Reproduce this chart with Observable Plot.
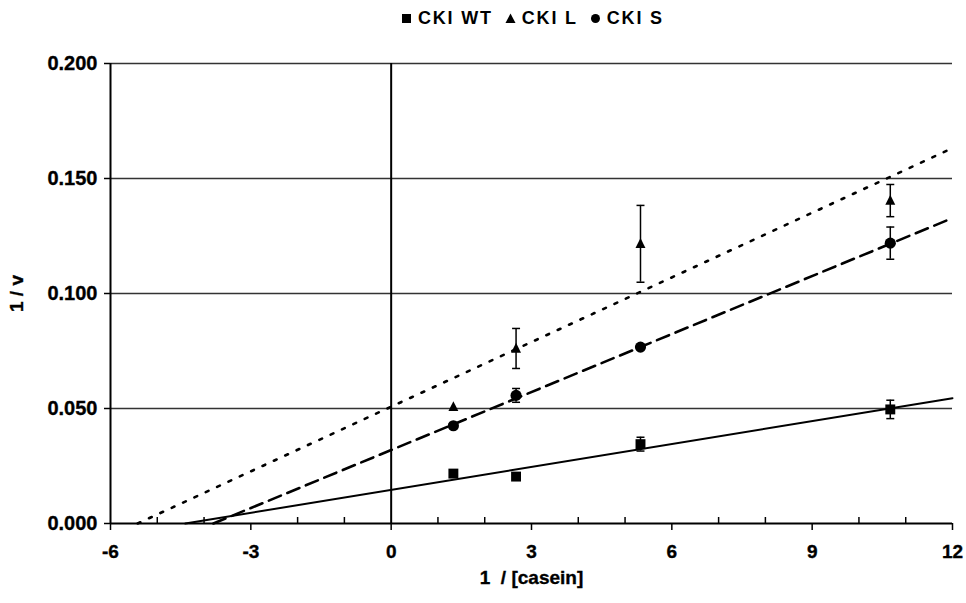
<!DOCTYPE html>
<html>
<head>
<meta charset="utf-8">
<script src="https://cdn.jsdelivr.net/npm/d3@7"></script>
<script src="https://cdn.jsdelivr.net/npm/@observablehq/plot@0.6"></script>
<style>
  body { margin: 0; background: #fff; font-family: "Liberation Sans", Arial, sans-serif; }
  #wrap { width: 966px; height: 603px; position: relative; }
  #legend { position: absolute; left: 401px; top: 6px; height: 24px; display: flex; align-items: center; font-weight: bold; font-size: 18px; letter-spacing: 1.8px; color: #000; white-space: nowrap; }
  #legend .item { display: flex; align-items: center; margin-right: 12px; }
  #legend svg { margin-right: 6px; }
  #chart { position: absolute; left: 0; top: 36px; }
  #chart svg text { font-weight: bold; stroke: #000; stroke-width: 0.35px; }
  #chart g[aria-label="y-axis tick label"] text { font-size: 20px; }
  #chart g[aria-label="x-axis tick label"] text { font-size: 19px; }
  #chart g[aria-label="x-axis label"] text { font-size: 19px; }
  #chart g[aria-label="y-axis label"] text { font-size: 19px; }
</style>
</head>
<body>
<div id="wrap">
  <div id="legend"></div>
  <div id="chart"></div>
</div>
<script>
// ---- data ----
const xConc = [1.33, 2.67, 5.33, 10.67];
const seriesNames = ["CKI WT", "CKI L", "CKI S"];
const wtY   = [0.0217, 0.0204, 0.0345, 0.0496];
const wtErr = [0, 0, 0.003, 0.004];
const lY    = [0.0507, 0.0761, 0.1216, 0.1404];
const lErr  = [0, 0.0087, 0.0167, 0.0070];
const sY    = [0.0425, 0.0557, 0.0767, 0.1219];
const sErr  = [0, 0.0030, 0, 0.0070];
// fitted lines (start at x-intercept, end at right edge)
const wtLineX = [-4.4, 12];  const wtLineY = [0, 0.0545];
const lLineX  = [-5.42, 12]; const lLineY  = [0, 0.1632];
const sLineX  = [-3.8, 12];  const sLineY  = [0, 0.1328];
const yTicks = [0, 0.05, 0.1, 0.15, 0.2];
const xMajor = [-6, -3, 0, 3, 6, 9, 12];
const xMinor = [-5, -4, -2, -1, 1, 2, 4, 5, 7, 8, 10, 11];

// ---- build tables ----
const points = [];
const symbols = ["square", "triangle", "circle"];
[[wtY, wtErr], [lY, lErr], [sY, sErr]].forEach(([ys, es], k) => {
  xConc.forEach((x, i) => points.push({series: seriesNames[k], sym: symbols[k], x, y: ys[i], e: es[i]}));
});
const errs = points.filter(d => d.e > 0);
const caps = errs.flatMap(d => [{x: d.x, y: d.y + d.e}, {x: d.x, y: d.y - d.e}]);
const mkLine = (xs, ys) => xs.map((x, i) => ({x, y: ys[i]}));

const capSymbol = {draw(ctx, size) { const r = Math.sqrt(size) / 2; ctx.moveTo(-r, 0); ctx.lineTo(r, 0); }};
const sqSymbol = {draw(ctx, size) { const r = Math.sqrt(size) / 2; ctx.rect(-r, -r, 2 * r, 2 * r); }};
const triSymbol = {draw(ctx, size) { const r = Math.sqrt(size) / 2; ctx.moveTo(0, -r * 1.15); ctx.lineTo(r, r * 0.85); ctx.lineTo(-r, r * 0.85); ctx.closePath(); }};
const symMap = {square: sqSymbol, triangle: triSymbol, circle: d3.symbolCircle};

const chart = Plot.plot({
  width: 966,
  height: 567,
  marginTop: 27,
  marginBottom: 80,
  marginLeft: 110,
  marginRight: 14,
  style: {fontFamily: "'Liberation Sans', Arial, sans-serif", fontSize: "17px", color: "#000", background: "#fff", overflow: "visible"},
  x: {domain: [-6, 12], axis: null},
  y: {domain: [0, 0.2], axis: null},
  marks: [
    Plot.ruleY(yTicks.filter(d => d > 0), {stroke: "#333", strokeWidth: 1.3}),
    Plot.ruleX([-6], {stroke: "#000", strokeWidth: 2}),
    Plot.ruleX([0], {stroke: "#000", strokeWidth: 2}),
    Plot.ruleY([0], {stroke: "#000", strokeWidth: 2}),
    Plot.axisY({ticks: yTicks, tickFormat: d3.format(".3f"), tickSize: 6, tickPadding: 7,
      label: "1 / v", labelAnchor: "center", labelOffset: 101, labelArrow: "none", stroke: "#000", strokeWidth: 1.5}),
    Plot.axisX(xMajor, {tickSize: 7, tickPadding: 14, tickFormat: d => String(d), stroke: "#000", strokeWidth: 1.5,
      label: "1  / [casein]", labelAnchor: "center", labelOffset: 60, labelArrow: "none"}),
    Plot.axisX(xMinor, {tickSize: 6, dy: -6, tickFormat: () => "", label: null, stroke: "#000", strokeWidth: 1.5}),
    Plot.line(mkLine(wtLineX, wtLineY), {x: "x", y: "y", stroke: "#000", strokeWidth: 2}),
    Plot.line(mkLine(sLineX, sLineY), {x: "x", y: "y", stroke: "#000", strokeWidth: 2.6, strokeDasharray: "13,7"}),
    Plot.line(mkLine(lLineX, lLineY), {x: "x", y: "y", stroke: "#000", strokeWidth: 2.6, strokeDasharray: "3,9.5"}),
    Plot.ruleX(errs, {x: "x", y1: d => d.y - d.e, y2: d => d.y + d.e, stroke: "#000", strokeWidth: 1.5}),
    Plot.dot(caps, {x: "x", y: "y", symbol: capSymbol, r: 4.5, stroke: "#000", strokeWidth: 1.5}),
    Plot.dot(points, {x: "x", y: "y", symbol: d => symMap[d.sym], r: 5.6, fill: "#000", stroke: "none"})
  ]
});
document.getElementById("chart").appendChild(chart);

// ---- legend ----
const legend = d3.select("#legend");
const legShapes = [
  s => s.append("rect").attr("x", 1).attr("y", 2).attr("width", 9).attr("height", 9),
  s => s.append("path").attr("d", "M5.5,1.5L10.5,11L0.5,11Z"),
  s => s.append("circle").attr("cx", 5.5).attr("cy", 6.5).attr("r", 4.5)
];
seriesNames.forEach((name, i) => {
  const it = legend.append("div").attr("class", "item");
  const svg = it.append("svg").attr("width", 11).attr("height", 13);
  legShapes[i](svg).attr("fill", "#000");
  it.append("span").text(name);
});
</script>
</body>
</html>
